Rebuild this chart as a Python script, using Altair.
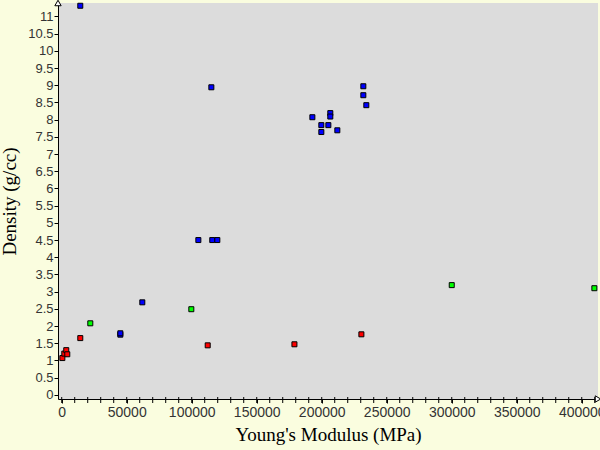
import altair as alt
import pandas as pd

# Data
blue_x = [14300, 115100, 232000, 232000, 234300, 192800, 206600, 206600, 199700, 205100,
          199700, 212000, 105100, 115800, 119700, 62000, 45100, 45100]
blue_y = [11.31, 8.94, 8.97, 8.71, 8.42, 8.07, 8.19, 8.09, 7.84, 7.84,
          7.64, 7.69, 4.50, 4.50, 4.50, 2.69, 1.75, 1.79]
green_x = [22000, 99700, 300000, 409700]
green_y = [2.08, 2.49, 3.19, 3.10]
red_x = [112300, 179000, 230500, 14300, 500, 2000, 3500, 4300]
red_y = [1.44, 1.47, 1.76, 1.65, 1.07, 1.20, 1.30, 1.18]

y_ticks = [i * 0.5 for i in range(23)]
x_ticks = [i * 50000 for i in range(9)]
x_minor = [i * 10000 for i in range(42)]

X_DOMAIN = [-2850, 412500]
Y_DOMAIN = [-0.12, 11.39]

rows = []
for g, xs, ys in [("blue", blue_x, blue_y), ("green", green_x, green_y), ("red", red_x, red_y)]:
    for a, b in zip(xs, ys):
        rows.append({"E": a, "rho": b, "g": g})
df = pd.DataFrame(rows)

tick_font = "Liberation Sans"
title_font = "Liberation Serif"

xscale = alt.Scale(domain=X_DOMAIN, nice=False, zero=False)
yscale = alt.Scale(domain=Y_DOMAIN, nice=False, zero=False)

x_axis = alt.Axis(values=x_ticks, format="d", title="Young's Modulus (MPa)",
                  grid=False, domainColor="black", domainWidth=1, tickColor="black",
                  tickSize=4, labelFont=tick_font, labelFontSize=14,
                  labelColor="#333333", labelPadding=2, labelOverlap=False,
                  titleFont=title_font, titleFontSize=19, titleFontWeight="normal",
                  titleColor="black", titlePadding=6)
y_axis = alt.Axis(values=y_ticks, format="~g", title="Density (g/cc)",
                  grid=False, domainColor="black", domainWidth=1, tickColor="black",
                  tickSize=4, labelFont=tick_font, labelFontSize=13,
                  labelColor="#333333", labelPadding=1, labelOverlap=False,
                  titleFont=title_font, titleFontSize=19, titleFontWeight="normal",
                  titleColor="black", titlePadding=8)

points = alt.Chart(df).mark_square(size=25, stroke="black", strokeWidth=1, opacity=1).encode(
    x=alt.X("E:Q", scale=xscale, axis=x_axis, title="Young's Modulus (MPa)"),
    y=alt.Y("rho:Q", scale=yscale, axis=y_axis, title="Density (g/cc)"),
    fill=alt.Color("g:N", scale=alt.Scale(domain=["blue", "green", "red"],
                                          range=["#0000FF", "#00FF00", "#FF0000"]), legend=None),
)

minor = alt.Chart(pd.DataFrame({"m": x_minor})).mark_rule(color="black", strokeWidth=1).encode(
    x=alt.X("m:Q", scale=xscale, axis=x_axis, title="Young's Modulus (MPa)"),
    y=alt.value(394),
    y2=alt.value(400),
)

arrows = alt.Chart(pd.DataFrame({
    "ax": [X_DOMAIN[0], X_DOMAIN[1]],
    "ay": [Y_DOMAIN[1], Y_DOMAIN[0]],
    "shape": ["triangle-up", "triangle-right"],
})).mark_point(filled=True, fill="white", stroke="black", strokeWidth=1, size=40, opacity=1).encode(
    x=alt.X("ax:Q", scale=xscale, axis=x_axis, title="Young's Modulus (MPa)"),
    y=alt.Y("ay:Q", scale=yscale, axis=y_axis, title="Density (g/cc)"),
    shape=alt.Shape("shape:N", scale=None, legend=None),
)

chart = alt.layer(points, minor, arrows).properties(
    width=540, height=396,
    autosize=alt.AutoSizeParams(type="none"),
    padding={"left": 58, "top": 3, "right": 2, "bottom": 51},
    background="#FAFDDF",
).configure_view(fill="#DCDCDC", stroke=None).configure_axis(labelFlush=False)

chart.save("out.html", embed_options={"renderer": "svg", "actions": False})
